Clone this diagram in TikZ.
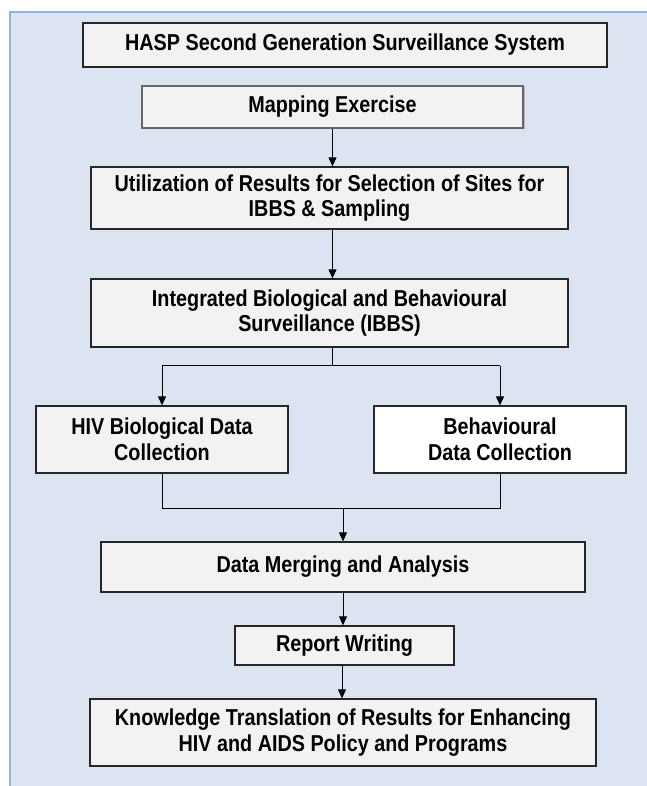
\documentclass[tikz,border=0pt]{standalone}
\usepackage{fontspec}
\setmainfont[FakeStretch=0.86]{Liberation Sans}
\usetikzlibrary{arrows.meta,shadows,calc}
\definecolor{panel}{HTML}{DBE4F0}
\definecolor{panelline}{HTML}{8EB4E3}
\definecolor{boxfill}{HTML}{F2F2F2}
\tikzset{
  box/.style={draw=black!85, line width=1.3pt, fill=boxfill, inner sep=0pt, align=center,
    font=\fontsize{23}{25.5}\selectfont\bfseries},
  arr/.style={line width=1pt, -{Triangle[length=9pt,width=8pt]}},
  ln/.style={line width=1pt},
}
\begin{document}
\begin{tikzpicture}[x=1pt,y=-1pt]
\useasboundingbox (0,0) rectangle (646,786);
\fill[panel] (10,12) rectangle (650,790);
\draw[panelline, line width=1.5pt] (10,790) -- (10,12) -- (650,12);
\node[box, minimum width=524pt, minimum height=44pt] (hasp) at (345,45) {HASP Second Generation Surveillance System};
\node[box, draw=black!60, minimum width=381pt, minimum height=42pt,
  drop shadow={shadow xshift=1.5pt, shadow yshift=-1.5pt, fill=black!45}] (map) at (332.5,107) {Mapping Exercise};
\node[box, minimum width=477pt, minimum height=62pt] (util) at (329.5,198) {Utilization of Results for Selection of Sites for\\IBBS \& Sampling};
\node[box, minimum width=477pt, minimum height=68pt] (integ) at (329.5,313) {Integrated Biological and Behavioural\\Surveillance (IBBS)};
\node[box, minimum width=252pt, minimum height=67pt] (hiv) at (162,439.5) {HIV Biological Data\\Collection};
\node[box, fill=white, minimum width=252pt, minimum height=67pt] (beh) at (500,439.5) {Behavioural\\Data Collection};
\node[box, minimum width=484pt, minimum height=50pt] (merge) at (343,567) {Data Merging and Analysis};
\node[box, minimum width=219pt, minimum height=39pt] (rep) at (344.5,645.5) {Report Writing};
\node[box, minimum width=506pt, minimum height=67pt] (know) at (343,732.5) {Knowledge Translation of Results for Enhancing\\HIV and AIDS Policy and Programs};
\coordinate (split) at ($(integ.south)+(2.5,18)$);
\coordinate (join) at ($(hiv.south)+(0,35)$);
\coordinate (rs) at ($(rep.south)+(-2.5,0)$);
\draw[arr] (map.south) -- (map.south |- util.north);
\draw[arr] (map.south |- util.south) -- (map.south |- integ.north);
\draw[ln] (split |- integ.south) -- (split);
\draw[ln] (hiv.north |- split) -- (beh.north |- split);
\draw[arr] (hiv.north |- split) -- (hiv.north);
\draw[arr] (beh.north |- split) -- (beh.north);
\draw[ln] (hiv.south) -- (hiv.south |- join) -- (beh.south |- join) -- (beh.south);
\draw[arr] (merge.north |- join) -- (merge.north);
\draw[arr] (merge.south) -- (merge.south |- rep.north);
\draw[arr] (rs) -- (rs |- know.north);
\end{tikzpicture}
\end{document}
